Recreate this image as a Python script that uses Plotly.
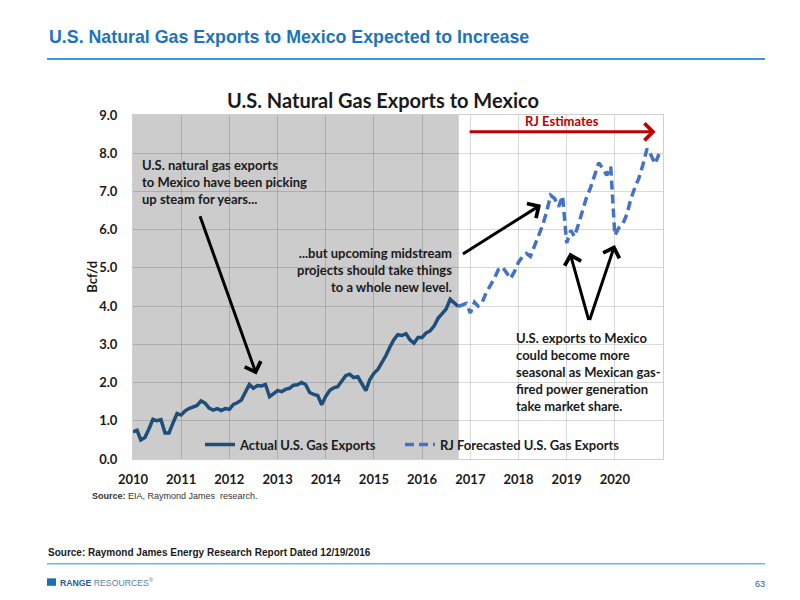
import plotly.graph_objects as go
import pandas as pd

# ---------------- data ----------------
actual_start = "2010-01-01"
actual_values = [
    0.71, 0.75, 0.50, 0.56, 0.78, 1.04, 1.00, 1.03, 0.68, 0.68, 0.95, 1.19,
    1.15, 1.26, 1.32, 1.37, 1.40, 1.52, 1.46, 1.33, 1.28, 1.32, 1.27, 1.32,
    1.30, 1.43, 1.47, 1.54, 1.72, 1.95, 1.85, 1.92, 1.91, 1.95, 1.63, 1.70,
    1.79, 1.76, 1.82, 1.85, 1.93, 1.94, 2.00, 1.95, 1.74, 1.69, 1.66, 1.42,
    1.64, 1.80, 1.86, 1.89, 2.05, 2.18, 2.22, 2.13, 2.15, 1.95, 1.79, 2.08,
    2.24, 2.35, 2.50, 2.70, 2.92, 3.12, 3.25, 3.23, 3.28, 3.12, 3.03, 3.18,
    3.18, 3.30, 3.35, 3.48, 3.68, 3.80, 3.92, 4.18, 4.08, 3.99,
]
forecast_start = "2016-10-01"
forecast_values = [
    3.99, 4.02, 4.07, 3.82, 4.10, 4.00, 4.10, 4.35, 4.52, 4.72, 4.95, 5.02,
    4.88, 4.72, 4.90, 5.15, 5.30, 5.38, 5.30, 5.55, 5.85, 6.10, 6.45, 6.90,
    6.82, 6.60, 6.88, 5.65, 5.98, 5.82, 6.15, 6.50, 6.85, 7.10, 7.45, 7.75,
    7.60, 7.42, 7.65, 5.85, 6.05, 6.15, 6.40, 6.80, 7.10, 7.35, 7.70, 8.12,
    7.95, 7.72, 7.98,
]
series_names = ["Actual U.S. Gas Exports", "RJ Forecasted U.S. Gas Exports"]
shade_end = "2016-10-05"

actual_dates = pd.date_range(actual_start, periods=len(actual_values), freq="MS")
forecast_dates = pd.date_range(forecast_start, periods=len(forecast_values), freq="MS")

# ---------------- layout helpers ----------------
W, H = 800, 600
OFF = 8  # page body margin
L, R, T, B = 133 - OFF, 663 - OFF, 115 - OFF, 459.5 - OFF


def px(xp):
    return (xp - OFF - L) / (R - L)


def py(yp):
    return (B - (yp - OFF)) / (B - T)


FONT = "Lato, Calibri, Carlito, sans-serif"
ARIAL = "Liberation Sans, Arial, sans-serif"
DARK = "#1a1a1a"

fig = go.Figure()
fig.add_trace(go.Scatter(
    x=actual_dates, y=actual_values, mode="lines", name=series_names[0],
    line=dict(color="#1F4E79", width=3.5), legend="legend",
))
fig.add_trace(go.Scatter(
    x=forecast_dates, y=forecast_values, mode="lines", name=series_names[1],
    line=dict(color="#4472C4", width=3.5, dash="9px,5px"), legend="legend2",
))

shapes = [
    dict(type="rect", xref="x", yref="paper", x0=actual_start, x1=shade_end,
         y0=0, y1=1, fillcolor="#CCCCCC", line=dict(width=0), layer="below"),
    dict(type="line", xref="paper", yref="paper", x0=px(47), x1=px(765),
         y0=py(59), y1=py(59), line=dict(color="#3A9AD9", width=2)),
    dict(type="line", xref="paper", yref="paper", x0=px(47), x1=px(765),
         y0=py(564.5), y1=py(564.5), line=dict(color="#6FB6E6", width=1.5)),
    dict(type="rect", xref="paper", yref="paper", x0=px(47), x1=px(56),
         y0=py(586.5), y1=py(579), fillcolor="#1F6FB4", line=dict(width=0)),
]

ann = []


def text(x, y, s, size, color=DARK, xanchor="left", font=FONT, align="left", **kw):
    ann.append(dict(xref="paper", yref="paper", x=px(x), y=py(y), text=s,
                    showarrow=False, xanchor=xanchor, yanchor="middle",
                    align=align, font=dict(family=font, size=size, color=color), **kw))


def arrow(x, y, ax, ay, color="black", width=3):
    ann.append(dict(xref="x", yref="y", axref="x", ayref="y", x=x, y=y, ax=ax, ay=ay,
                    text="", showarrow=True, arrowhead=4, arrowsize=1.1,
                    arrowwidth=width, arrowcolor=color))


text(47, 37, "<b>U.S. Natural Gas Exports to Mexico Expected to Increase</b>", 17.8,
     color="#1B75BC", font=ARIAL)
text(383, 100, "<b>U.S. Natural Gas Exports to Mexico</b>", 20, xanchor="center")
text(92, 277, "<b>Bcf/d</b>", 13, textangle=-90, xanchor="center")

text(140, 182, "<b>U.S. natural gas exports<br>to Mexico have been picking<br>up steam for years...</b>", 13)
text(454, 270, "<b>...but upcoming midstream<br>projects should take things<br>to a whole new level.</b>", 13,
     xanchor="right", align="right")
text(514, 372, "<b>U.S. exports to Mexico<br>could become more<br>seasonal as Mexican gas-<br>fired power generation<br>take market share.</b>", 13)
text(562, 121, "<b>RJ Estimates</b>", 13, color="#C00000", xanchor="center")

text(90, 497, "<b>Source:</b> EIA, Raymond James  research.", 9, color="#333333", font=ARIAL)
text(46, 553, "<b>Source: Raymond James Energy Research Report Dated 12/19/2016</b>", 10, font=ARIAL)
text(58, 583, "<b><span style='color:#1F5C99'>RANGE</span></b> RESOURCES<sup>®</sup>", 8.7,
     color="#5E7EA8", font=ARIAL)
text(767, 585, "63", 9, color="#1F5C99", font=ARIAL, xanchor="right")

arrow("2012-07-25", 2.21, "2011-05-20", 6.39)
arrow("2018-06-20", 6.65, "2016-10-25", 5.34)
arrow("2019-01-25", 5.40, "2019-06-20", 3.60)
arrow("2020-01-01", 5.60, "2019-06-20", 3.60)
arrow("2020-11-05", 8.56, "2016-12-15", 8.56, color="#C00000", width=3)

legend_common = dict(orientation="h", xanchor="left", yanchor="middle",
                     bgcolor="rgba(0,0,0,0)",
                     font=dict(family=FONT, size=13, color=DARK, weight="bold"),
                     itemwidth=30)

fig.update_layout(
    width=W, height=H,
    margin=dict(l=L, r=W - R, t=T, b=H - B, autoexpand=False),
    paper_bgcolor="white", plot_bgcolor="white",
    shapes=shapes, annotations=ann,
    showlegend=True,
    legend=dict(x=px(200), y=py(445), **legend_common),
    legend2=dict(x=px(400), y=py(445), **legend_common),
    font=dict(family=FONT, color=DARK),
)
fig.update_xaxes(
    type="date", range=["2010-01-01", "2020-12-31"], dtick="M12", tick0="2010-01-01",
    tickformat="%Y", showgrid=True, gridcolor="rgba(0,0,0,0.15)", gridwidth=1,
    showline=True, linecolor="#D0D0D0", mirror=True, ticks="",
    tickfont=dict(family=FONT, size=13, color=DARK, weight="bold"),
    ticklabelstandoff=8, zeroline=False,
)
fig.update_yaxes(
    range=[0, 9], dtick=1, tickformat=".1f", showgrid=True,
    gridcolor="rgba(0,0,0,0.15)", gridwidth=1, showline=True, linecolor="#D0D0D0",
    mirror=True, ticks="", zeroline=False,
    tickfont=dict(family=FONT, size=13, color=DARK, weight="bold"),
    ticklabelstandoff=12,
)

fig.write_html("out.html")
